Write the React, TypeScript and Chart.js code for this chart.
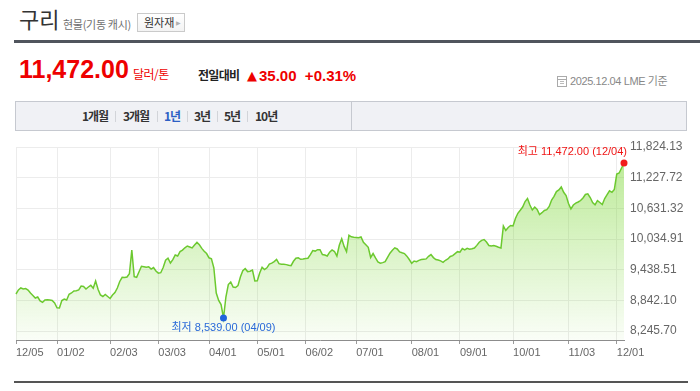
import React, { useEffect, useRef } from 'react';
import { Chart, registerables } from 'chart.js';

Chart.register(...registerables);

// LME copper cash price, one value per trading day (2024-12-05 .. 2025-12-04)
const priceValues: number[] = [
  8993, 9069, 9107, 9088, 9097, 9069, 9012, 8965, 8917, 8936,
  8861, 8836, 8880, 8885, 8880, 8872, 8823, 8732, 8728, 8870,
  8898, 8880, 8987, 9012, 9050, 9055, 9069, 9144, 9135, 9088,
  9126, 9158, 9101, 9239, 9082, 8974, 8946, 8984, 8946, 8908,
  8974, 9021, 9107, 9230, 9309, 9305, 9315, 9377, 9826, 9320,
  9309, 9415, 9517, 9510, 9500, 9508, 9464, 9494, 9428, 9387,
  9396, 9494, 9631, 9669, 9580, 9642, 9731, 9712, 9795, 9824,
  9867, 9901, 9882, 9864, 9920, 9970, 9924, 9856, 9803, 9758,
  9678, 9659, 9489, 9012, 8870, 8794, 8539, 8936, 9173, 9220,
  9126, 9116, 9152, 9315, 9432, 9472, 9417, 9424, 9447, 9239,
  9243, 9392, 9498, 9455, 9489, 9559, 9576, 9606, 9646, 9566,
  9555, 9555, 9549, 9536, 9529, 9612, 9669, 9678, 9650, 9655,
  9665, 9669, 9739, 9816, 9805, 9831, 9831, 9741, 9731, 9712,
  9784, 9826, 9797, 9712, 9915, 10038, 9894, 9794, 10104, 10075,
  10066, 10064, 10058, 10072, 9973, 9926, 9877, 9684, 9759, 9676,
  9600, 9576, 9587, 9604, 9688, 9765, 9822, 9867, 9845, 9790,
  9773, 9758, 9710, 9646, 9574, 9618, 9604, 9629, 9644, 9650,
  9657, 9706, 9739, 9682, 9646, 9636, 9619, 9593, 9631, 9657,
  9703, 9720, 9758, 9794, 9784, 9852, 9826, 9858, 9841, 9848,
  9862, 9913, 9973, 10009, 10024, 9977, 9911, 9901, 9911, 9896,
  9879, 9864, 10280, 10195, 10251, 10289, 10280, 10422, 10520, 10577,
  10639, 10743, 10800, 10677, 10583, 10639, 10592, 10497, 10531, 10573,
  10588, 10649, 10772, 10842, 10931, 10961, 11018, 10918, 10857, 10706,
  10602, 10677, 10713, 10734, 10762, 10810, 10876, 10889, 10819, 10725,
  10681, 10759, 10725, 10687, 10800, 10872, 10946, 10918, 10971, 11264,
  11283, 11377, 11472,
];

// trading-day index of the first session of each month, and its label
const monthTickIndex = [0, 17, 39, 59, 80, 100, 120, 141, 164, 184, 206, 229, 249];
const monthTickLabels = ['12/05', '01/02', '02/03', '03/03', '04/01', '05/01', '06/02', '07/01', '08/01', '09/01', '10/01', '11/03', '12/01'];

// y axis tick labels, bottom to top
const yTickLabels = ['8,245.70', '8,842.10', '9,438.51', '10,034.91', '10,631.32', '11,227.72', '11,824.13'];
const yAxisMin = 8122.6;
const yAxisMax = 11774.7;
const yGridBottom = 8292.9;

const highDate = '12/04';
const lowDate = '04/09';

const currentPrice = '11,472.00';
const priceChange = '35.00';
const priceChangePct = '+0.31%';
const baseDate = '2025.12.04';

const periodTabs = ['1개월', '3개월', '1년', '3년', '5년', '10년'];
const activeTab = 2;

let maxIndex = 0;
let minIndex = 0;
priceValues.forEach((v, i) => {
  if (v > priceValues[maxIndex]) maxIndex = i;
  if (v < priceValues[minIndex]) minIndex = i;
});

const fmt = (v: number) => v.toLocaleString('en-US', { minimumFractionDigits: 2, maximumFractionDigits: 2 });

const extremesPlugin = {
  id: 'extremes',
  afterDatasetsDraw(chart: any) {
    const xs = chart.scales.x;
    const ys = chart.scales.y;
    const ctx = chart.ctx;
    ctx.save();
    ctx.font = '11px "Liberation Sans", "Noto Sans CJK KR", sans-serif';
    ctx.textBaseline = 'middle';
    const hx = xs.getPixelForValue(maxIndex);
    const hy = ys.getPixelForValue(priceValues[maxIndex]);
    ctx.fillStyle = '#f01515';
    ctx.textAlign = 'right';
    ctx.fillText(`최고 ${fmt(priceValues[maxIndex])} (${highDate})`, hx + 3, hy - 11);
    const lx = xs.getPixelForValue(minIndex);
    const ly = ys.getPixelForValue(priceValues[minIndex]);
    ctx.fillStyle = '#2a6ad8';
    ctx.textAlign = 'center';
    ctx.fillText(`최저 ${fmt(priceValues[minIndex])} (${lowDate})`, lx, ly + 10);
    ctx.restore();
  },
};

const KR = '"Noto Sans CJK KR", "Liberation Sans", sans-serif';
const LAT = '"Liberation Sans", "Noto Sans CJK KR", sans-serif';

function App() {
  const canvasRef = useRef<HTMLCanvasElement | null>(null);

  useEffect(() => {
    if (!canvasRef.current) return;
    const step = (yAxisMax - yGridBottom) / (yTickLabels.length - 1);
    const chart = new Chart(canvasRef.current, {
      type: 'line',
      data: {
        datasets: [
          {
            data: priceValues.map((v, i) => ({ x: i, y: v })),
            borderColor: '#6cc92f',
            borderWidth: 1.5,
            tension: 0,
            fill: 'start',
            clip: false as any,
            backgroundColor: (c: any) => {
              const area = c.chart.chartArea;
              if (!area) return 'rgba(125,215,55,0.3)';
              const g = c.chart.ctx.createLinearGradient(0, area.top, 0, area.bottom);
              g.addColorStop(0, 'rgba(125,215,55,0.55)');
              g.addColorStop(1, 'rgba(125,215,55,0.04)');
              return g;
            },
            pointRadius: (c: any) => (c.dataIndex === maxIndex || c.dataIndex === minIndex ? 3.5 : 0),
            pointHoverRadius: 0,
            pointBorderWidth: 0,
            pointBackgroundColor: (c: any) => (c.dataIndex === maxIndex ? '#f21c1c' : '#1f63dc'),
          },
        ],
      },
      options: {
        animation: false,
        responsive: false,
        devicePixelRatio: 1,
        layout: { padding: { top: 16, left: 16, right: 0, bottom: 0 } },
        plugins: { legend: { display: false }, tooltip: { enabled: false } },
        events: [],
        scales: {
          x: {
            type: 'linear',
            position: 'bottom',
            min: 0,
            max: priceValues.length - 1,
            afterBuildTicks: (s: any) => {
              s.ticks = monthTickIndex.map((v) => ({ value: v }));
            },
            afterFit: (s: any) => {
              s.height = 25;
            },
            grid: { color: '#ececec', tickLength: 4, tickColor: '#9a9a9a', drawTicks: true },
            border: { color: '#8c8c8c', width: 1 },
            ticks: {
              autoSkip: false,
              maxRotation: 0,
              minRotation: 0,
              align: 'start',
              padding: 2,
              color: '#666',
              font: { size: 11, family: LAT },
              callback: (value: any) => {
                const k = monthTickIndex.indexOf(Number(value));
                return k >= 0 ? monthTickLabels[k] : '';
              },
            },
          },
          y: {
            type: 'linear',
            position: 'right',
            min: yAxisMin,
            max: yAxisMax,
            afterBuildTicks: (s: any) => {
              s.ticks = yTickLabels.map((_, k) => ({ value: yGridBottom + k * step }));
            },
            afterFit: (s: any) => {
              s.width = 76;
            },
            grid: { color: '#ececec', drawTicks: false },
            border: { display: false },
            ticks: {
              padding: 6,
              color: '#666',
              font: { size: 12, family: LAT },
              callback: (_v: any, idx: number) => yTickLabels[idx],
            },
          },
        },
      } as any,
      plugins: [extremesPlugin],
    });
    return () => chart.destroy();
  }, []);

  const tabLeft = [82, 123, 164, 194, 224, 255];
  const sepLeft = [115, 157, 187, 217, 247];

  return (
    <div style={{ position: 'fixed', left: 0, top: 0, width: 700, height: 391, background: '#fff', overflow: 'hidden' }}>
      {/* title */}
      <div style={{ position: 'absolute', left: 19, top: 7, fontFamily: KR, fontSize: 22, lineHeight: '22px', color: '#333' }}>구리</div>
      <div style={{ position: 'absolute', left: 63, top: 18, fontFamily: KR, fontSize: 11, lineHeight: '12px', color: '#707070', letterSpacing: -0.3 }}>현물(기동 캐시)</div>
      <div style={{ position: 'absolute', left: 137, top: 13, width: 48, height: 19, boxSizing: 'border-box', border: '1px solid #cacaca', background: 'linear-gradient(#ffffff, #f3f3f3)' }}>
        <span style={{ position: 'absolute', left: 6, top: 2, fontFamily: KR, fontSize: 11, lineHeight: '13px', color: '#333' }}>원자재</span>
        <span style={{ position: 'absolute', left: 38, top: 4, fontFamily: '"DejaVu Sans", sans-serif', fontSize: 6, lineHeight: '9px', color: '#b0b0b0' }}>▶</span>
      </div>
      <div style={{ position: 'absolute', left: 14, top: 40, width: 686, height: 3, background: '#50555d' }} />

      {/* price row */}
      <div style={{ position: 'absolute', left: 19, top: 57, fontFamily: LAT, fontWeight: 700, fontSize: 25, lineHeight: '25px', color: '#ee0000', letterSpacing: 0 }}>{currentPrice}</div>
      <div style={{ position: 'absolute', left: 133, top: 68, fontFamily: KR, fontSize: 12, lineHeight: '12px', color: '#ee0000', letterSpacing: -0.5 }}>달러/톤</div>
      <div style={{ position: 'absolute', left: 198, top: 69, fontFamily: KR, fontWeight: 700, fontSize: 12, lineHeight: '12px', color: '#222', letterSpacing: -0.7 }}>전일대비</div>
      <div style={{ position: 'absolute', left: 247, top: 68, fontFamily: '"DejaVu Sans", sans-serif', fontSize: 13, lineHeight: '15px', color: '#ee0000' }}>▲</div>
      <div style={{ position: 'absolute', left: 259, top: 68, fontFamily: LAT, fontWeight: 700, fontSize: 15, lineHeight: '15px', color: '#ee0000', whiteSpace: 'pre' }}>
        {priceChange + '  ' + priceChangePct}
      </div>
      <svg style={{ position: 'absolute', left: 557, top: 75 }} width="11" height="12" viewBox="0 0 11 12">
        <rect x="0.5" y="1.5" width="9" height="10" fill="none" stroke="#aaa" />
        <line x1="0.5" y1="4.5" x2="9.5" y2="4.5" stroke="#aaa" />
        <line x1="3" y1="6.5" x2="7" y2="6.5" stroke="#bbb" />
        <line x1="3" y1="8.5" x2="7" y2="8.5" stroke="#bbb" />
      </svg>
      <div style={{ position: 'absolute', left: 570, top: 75, fontFamily: LAT, fontSize: 11, lineHeight: '12px', color: '#888', letterSpacing: -0.4, whiteSpace: 'pre' }}>
        {baseDate + ' LME 기준'}
      </div>

      {/* period tabs */}
      <div style={{ position: 'absolute', left: 15, top: 101, width: 672, height: 30, boxSizing: 'border-box', border: '1px solid #c6c9d0', background: '#f0f1f5' }}>
        <div style={{ position: 'absolute', left: 335, top: 0, width: 1, height: 28, background: '#c6c9d0' }} />
      </div>
      {periodTabs.map((t, i) => (
        <div key={t} style={{ position: 'absolute', left: tabLeft[i], top: 109, fontFamily: KR, fontWeight: 700, fontSize: 12, lineHeight: '14px', color: i === activeTab ? '#2d5fc4' : '#333', letterSpacing: -1 }}>{t}</div>
      ))}
      {sepLeft.map((x) => (
        <div key={x} style={{ position: 'absolute', left: x, top: 111, width: 1, height: 11, background: '#d2d4d9' }} />
      ))}

      {/* chart */}
      <canvas ref={canvasRef} width={700} height={234} style={{ position: 'absolute', left: 0, top: 131, width: 700, height: 234 }} />

      <div style={{ position: 'absolute', left: 14, top: 381, width: 674, height: 2, background: '#555' }} />
    </div>
  );
}

export default App;
